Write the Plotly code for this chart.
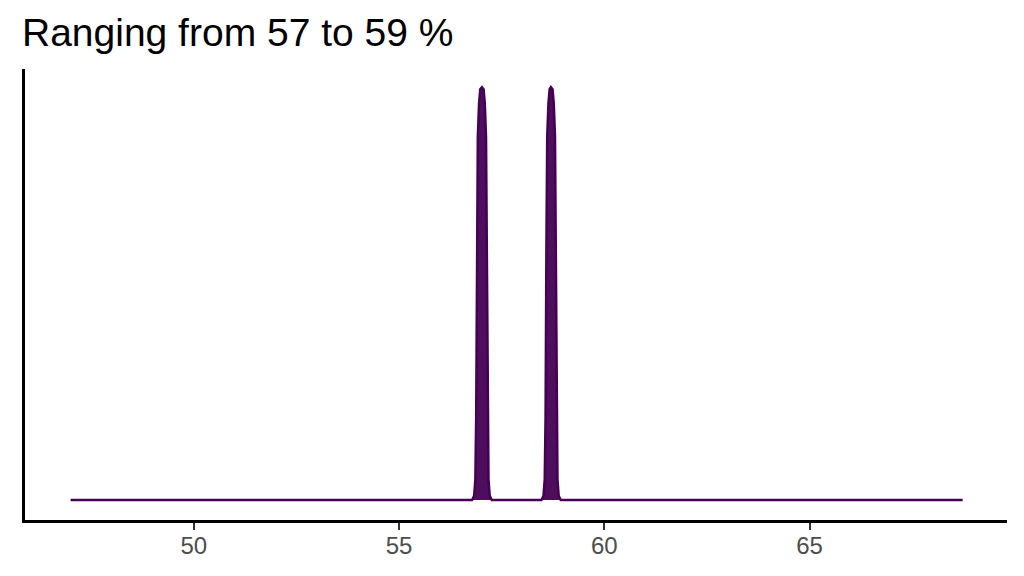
import plotly.graph_objects as go

# density curve (height scaled so the tallest peak = 1)
dens_x = [47.0,
          56.78, 56.83, 56.86, 56.88, 56.90, 56.92, 56.95, 56.98, 57.02,
          57.06, 57.09, 57.12, 57.14, 57.16, 57.18, 57.21, 57.26,
          58.47, 58.52, 58.55, 58.57, 58.59, 58.61, 58.64, 58.67, 58.70,
          58.74, 58.77, 58.80, 58.82, 58.84, 58.86, 58.89, 58.94,
          68.73]
dens_y = [0.0,
          0.0, 0.01, 0.05, 0.2, 0.6, 0.88, 0.96, 0.995, 1.0,
          0.995, 0.96, 0.88, 0.6, 0.2, 0.05, 0.01, 0.0,
          0.0, 0.01, 0.05, 0.2, 0.6, 0.88, 0.96, 0.995, 1.0,
          0.995, 0.96, 0.88, 0.6, 0.2, 0.05, 0.01, 0.0,
          0.0]

x_ticks = [50, 55, 60, 65]
title_text = "Ranging from 57 to 59 %"

fig = go.Figure(go.Scatter(
    x=dens_x, y=dens_y,
    mode="lines",
    line=dict(color="#440154", width=2.5),
    fill="tozeroy",
    fillcolor="rgba(68,1,84,0.95)",
    hoverinfo="skip",
))

# page body has an 8px margin, so the figure is drawn 8px smaller
fig.update_layout(
    width=1016, height=568,
    paper_bgcolor="white", plot_bgcolor="white",
    margin=dict(l=16.5, r=17, t=61, b=56),
    showlegend=False,
    font=dict(family="Liberation Sans, Arial, sans-serif"),
    title=dict(text=title_text, x=14 / 1016, xanchor="left",
               y=0.982, yanchor="top", yref="container",
               font=dict(size=39, color="black")),
)

fig.update_xaxes(
    range=[45.89, 69.81],
    tickvals=x_ticks,
    showgrid=False, zeroline=False,
    showline=True, linecolor="black", linewidth=2.5,
    ticks="outside", ticklen=7, tickwidth=2, tickcolor="#333333",
    tickfont=dict(size=24, color="#4D4D4D"),
    ticklabelstandoff=-5,
)
fig.update_yaxes(
    range=[-0.0485, 1.044],
    showticklabels=False,
    showgrid=False, zeroline=False,
    showline=True, linecolor="black", linewidth=2.5,
    ticks="",
)

fig.write_html("out.html")
